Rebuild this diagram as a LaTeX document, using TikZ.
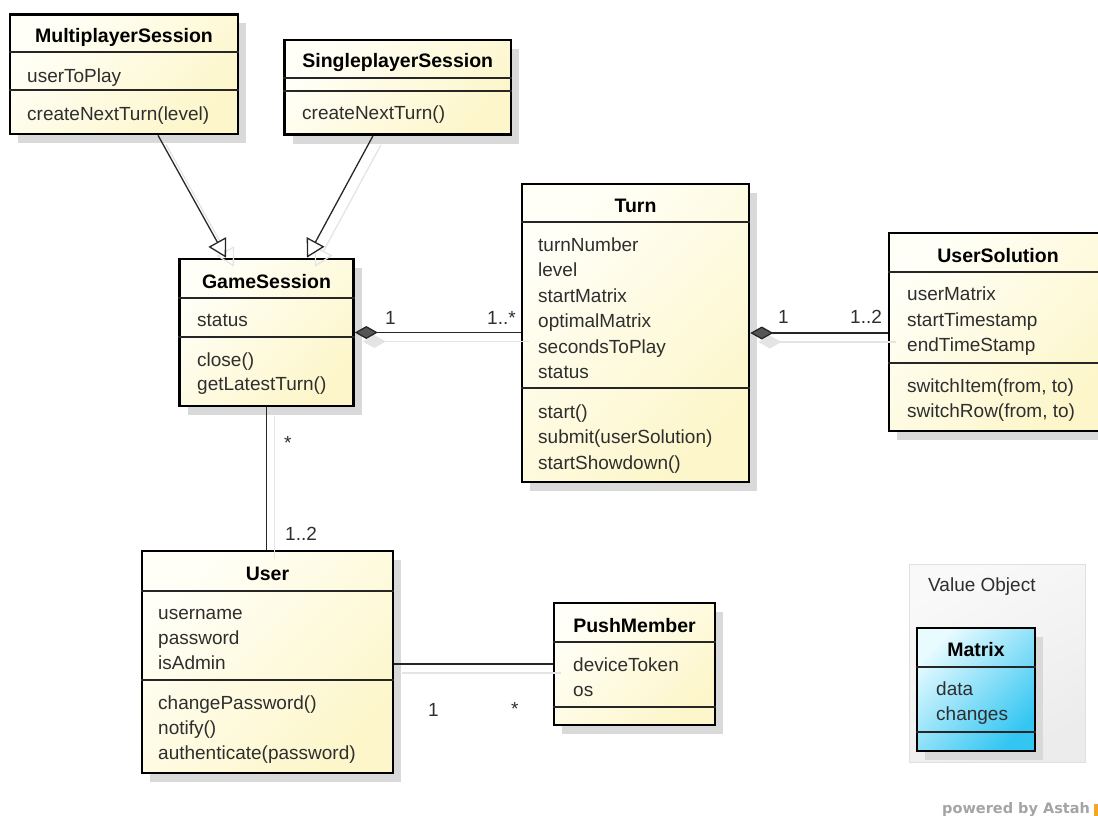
\documentclass[tikz,border=0pt]{standalone}
\usepackage{fontspec}
\setmainfont{Liberation Sans}
\newfontfamily\brandfont{DejaVu Sans}
\usetikzlibrary{arrows.meta}

\definecolor{classTop}{HTML}{FFFFF7}
\definecolor{classBot}{HTML}{FDF6CA}
\definecolor{valTop}{HTML}{E8FBFF}
\definecolor{valBot}{HTML}{34C6F2}
\definecolor{boxShadow}{HTML}{D9D9D9}
\definecolor{lineShadow}{HTML}{E4E4E4}
\definecolor{textGray}{HTML}{2E2E2E}
\definecolor{frameTop}{HTML}{F9F9F9}
\definecolor{frameBot}{HTML}{ECECEC}
\definecolor{frameLine}{HTML}{E0E0E0}
\definecolor{diamondFill}{HTML}{555555}
\definecolor{poweredGray}{HTML}{A4A4A4}
\definecolor{brandOrange}{HTML}{F5A623}

% one class box: shadow plus shaded, thick-bordered rectangle
\newcommand{\umlclass}[6][classbox]{%
  \fill[boxshadow] ({#3+8},{#4+9}) rectangle ({#5+8},{#6+9});
  \node[#1, minimum width={(#5-#3)*1pt}, minimum height={(#6-#4)*1pt}] (#2) at ({(#3+#5)/2},{(#4+#6)/2}) {};
}
% horizontal compartment separator across a class box
\newcommand{\compline}[2]{\draw[divider] (#1.west |- 0,#2) -- (#1.east |- 0,#2);}

\begin{document}
\begin{tikzpicture}[x=1pt,y=-1pt,
  classbox/.style={draw=black, line width=2.6pt, rectangle, inner sep=0pt,
    top color=classTop, bottom color=classBot, shading angle=45},
  valuebox/.style={classbox, top color=valTop, bottom color=valBot, shading angle=45},
  boxshadow/.style={fill=boxShadow},
  frame/.style={draw=frameLine, line width=0.8pt, rectangle, inner sep=0pt,
    top color=frameTop, bottom color=frameBot, shading angle=30},
  title/.style={anchor=base, inner sep=0pt, font=\bfseries\fontsize{19.5}{23}\selectfont},
  member/.style={anchor=base west, inner sep=0pt, text=textGray, font=\fontsize{19}{23}\selectfont},
  divider/.style={line width=1.2pt, draw=black!85},
  conn/.style={line width=1.3pt, draw=black!85},
  connshadow/.style={line width=1.3pt, draw=lineShadow},
  general/.style={-{Triangle[open, fill=white, length=18pt, width=20pt]}},
  generalshadow/.style={-{Triangle[open, length=18pt, width=20pt]}},
  compose/.style={{Diamond[length=23pt, width=13pt, fill=diamondFill]}-},
  composeshadow/.style={{Diamond[length=23pt, width=13pt, fill=lineShadow]}-},
]
\useasboundingbox (0,0) rectangle (1098,816);
\clip (0,0) rectangle (1098,816);

% ---- package frame for value objects
\node[frame, minimum width=176pt, minimum height=198pt] (vo) at (997,663) {};
\node[member] (vo-name) at (928,591) {Value Object};

% ---- class boxes
\umlclass{ms}{10}{14.5}{238}{134}
\umlclass{ss}{284.5}{40}{511}{134.5}
\umlclass{gs}{179.5}{259}{353.5}{406}
\umlclass{tn}{522}{184}{749}{482}
\umlclass{sol}{889}{233}{1107}{431}
\umlclass{usr}{142}{551}{393}{773}
\umlclass{pm}{554}{603}{715}{725}
\umlclass[valuebox]{mx}{917}{628}{1035}{751}

% MultiplayerSession
\node[title] (ms-name) at (ms.center |- 0,43) {MultiplayerSession};
\compline{ms}{52}
\node[member] (ms-a1) at (27,82) {userToPlay};
\compline{ms}{90}
\node[member] (ms-o1) at (27,121) {createNextTurn(level)};

% SingleplayerSession
\node[title] (ss-name) at (ss.center |- 0,67) {SingleplayerSession};
\compline{ss}{78}
\compline{ss}{91}
\node[member] (ss-o1) at (302,119) {createNextTurn()};

% GameSession
\node[title] (gs-name) at (gs.center |- 0,288) {GameSession};
\compline{gs}{298}
\node[member] (gs-a1) at (197,326) {status};
\compline{gs}{337}
\node[member] (gs-o1) at (197,366) {close()};
\node[member] (gs-o2) at (197,390) {getLatestTurn()};

% Turn
\node[title] (tn-name) at (tn.center |- 0,212) {Turn};
\compline{tn}{222}
\node[member] (tn-a1) at (538,251) {turnNumber};
\node[member] (tn-a2) at (538,276.5) {level};
\node[member] (tn-a3) at (538,302) {startMatrix};
\node[member] (tn-a4) at (538,327.5) {optimalMatrix};
\node[member] (tn-a5) at (538,353) {secondsToPlay};
\node[member] (tn-a6) at (538,378) {status};
\compline{tn}{388}
\node[member] (tn-o1) at (538,418) {start()};
\node[member] (tn-o2) at (538,443.5) {submit(userSolution)};
\node[member] (tn-o3) at (538,469) {startShowdown()};

% UserSolution
\node[title] (sol-name) at (sol.center |- 0,262) {UserSolution};
\compline{sol}{272}
\node[member] (sol-a1) at (907,300) {userMatrix};
\node[member] (sol-a2) at (907,326) {startTimestamp};
\node[member] (sol-a3) at (907,351) {endTimeStamp};
\compline{sol}{363}
\node[member] (sol-o1) at (907,392) {switchItem(from, to)};
\node[member] (sol-o2) at (907,417) {switchRow(from, to)};

% User
\node[title] (usr-name) at (usr.center |- 0,580) {User};
\compline{usr}{591}
\node[member] (usr-a1) at (158,619) {username};
\node[member] (usr-a2) at (158,644) {password};
\node[member] (usr-a3) at (158,669) {isAdmin};
\compline{usr}{680}
\node[member] (usr-o1) at (158,709) {changePassword()};
\node[member] (usr-o2) at (158,734) {notify()};
\node[member] (usr-o3) at (158,759) {authenticate(password)};

% PushMember
\node[title] (pm-name) at (pm.center |- 0,632) {PushMember};
\compline{pm}{642}
\node[member] (pm-a1) at (573,671) {deviceToken};
\node[member] (pm-a2) at (573,696) {os};
\compline{pm}{707}

% Matrix
\node[title] (mx-name) at (mx.center |- 0,656) {Matrix};
\compline{mx}{667}
\node[member] (mx-a1) at (936,695) {data};
\node[member] (mx-a2) at (936,720) {changes};
\compline{mx}{732}

% ---- connector shadows
\begin{scope}[transform canvas={shift={(8,9)}}]
  \draw[connshadow, generalshadow] (158,0 |- ms.south) -- (226,0 |- gs.north);
  \draw[connshadow, generalshadow] (373,0 |- ss.south) -- (307,0 |- gs.north);
  \draw[connshadow, composeshadow] (gs.east) -- (gs.east -| tn.west);
  \draw[connshadow, composeshadow] (tn.east) -- (tn.east -| sol.west);
  \draw[connshadow] (gs.south) -- (gs.south |- usr.north);
  \draw[connshadow] (usr.east |- pm.west) -- (pm.west);
\end{scope}

% ---- connectors
\draw[conn, general] (158,0 |- ms.south) -- (226,0 |- gs.north);
\draw[conn, general] (373,0 |- ss.south) -- (307,0 |- gs.north);
\draw[conn, compose] (gs.east) -- (gs.east -| tn.west);
\draw[conn, compose] (tn.east) -- (tn.east -| sol.west);
\draw[conn] (gs.south) -- (gs.south |- usr.north);
\draw[conn] (usr.east |- pm.west) -- (pm.west);

% ---- multiplicities
\node[member] (m-gs) at (385,324) {1};
\node[member] (m-tn) at (487,324) {1..*};
\node[member] (m-tn2) at (778,323) {1};
\node[member] (m-sol) at (850,323) {1..2};
\node[member] (m-gs2) at (284,449) {*};
\node[member] (m-usr) at (285,540) {1..2};
\node[member] (m-usr2) at (428,716) {1};
\node[member] (m-pm) at (511,715) {*};

% ---- tool credit
\node[anchor=base west, inner sep=0pt, text=poweredGray,
  font=\brandfont\bfseries\fontsize{14.5}{16}\selectfont] (brand) at (942,813) {powered by Astah};
\fill[brandOrange] (1094,804) rectangle (1098,816);
\end{tikzpicture}
\end{document}
